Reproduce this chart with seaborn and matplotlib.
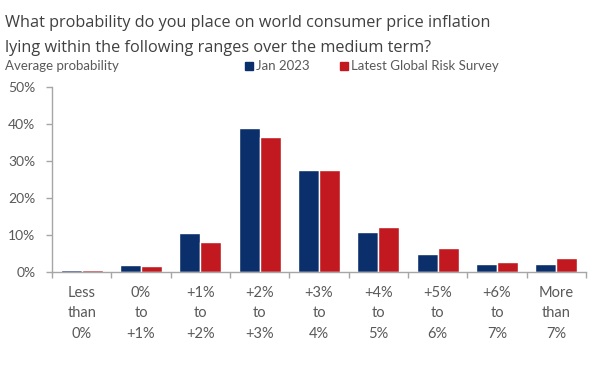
import numpy as np
import pandas as pd
import matplotlib
matplotlib.use("Agg")
import matplotlib.pyplot as plt
import seaborn as sns

categories = ["Less\nthan\n0%", "0%\nto\n+1%", "+1%\nto\n+2%", "+2%\nto\n+3%", "+3%\nto\n4%",
              "+4%\nto\n5%", "+5%\nto\n6%", "+6%\nto\n7%", "More\nthan\n7%"]
jan_2023 = [0.5, 1.9, 10.6, 39.0, 27.6, 10.7, 5.0, 2.1, 2.2]
latest = [0.5, 1.6, 8.2, 36.5, 27.6, 12.2, 6.6, 2.6, 3.7]
series_names = ["Jan 2023", "Latest Global Risk Survey"]
y_ticks = [0, 10, 20, 30, 40, 50]
title_lines = ["What probability do you place on world consumer price inflation",
               "lying within the following ranges over the medium term?"]

navy = "#0b2f6b"
red = "#c1191f"
grey = "#595959"
axis_grey = "#a6a6a6"

df = pd.DataFrame({
    "category": categories * 2,
    "value": jan_2023 + latest,
    "series": [series_names[0]] * len(categories) + [series_names[1]] * len(categories),
})

sns.set_style("white")
plt.rcParams["font.family"] = ["Lato", "DejaVu Sans"]

fig = plt.figure(figsize=(6, 3.83), dpi=100)
ax = fig.add_axes([52 / 600, 1 - 272 / 383, 534 / 600, 185 / 383])

sns.barplot(data=df, x="category", y="value", hue="series", order=categories,
            hue_order=series_names, palette=[navy, red], width=0.71, gap=0,
            saturation=1, legend=False, ax=ax)

ax.set_xlim(-0.5, len(categories) - 0.5)
ax.set_ylim(0, 50)
ax.set_yticks(y_ticks)
ax.set_yticklabels([f"{t}%" for t in y_ticks])
ax.set_xlabel("")
ax.set_ylabel("")

for side in ["top", "right"]:
    ax.spines[side].set_visible(False)
for side in ["left", "bottom"]:
    ax.spines[side].set_color(axis_grey)
    ax.spines[side].set_linewidth(1)

ax.tick_params(axis="y", length=4, width=1, color=axis_grey, labelcolor=grey,
               labelsize=10, pad=8, direction="out", left=True)
ax.tick_params(axis="x", which="major", length=0, labelcolor=grey, labelsize=10.5, pad=10)
ax.set_xticks(np.arange(-0.5, len(categories)), minor=True)
ax.tick_params(axis="x", which="minor", length=4, width=1, color=axis_grey, direction="out", bottom=True)
for lbl in ax.get_xticklabels():
    lbl.set_linespacing(1.6)

# title, one text per line so the line gap matches
for i, line in enumerate(title_lines):
    fig.text(5 / 600, 1 - (27 + 25 * i) / 383, line, ha="left", va="baseline",
             fontsize=11.7, color="#404040", family="Open Sans")
fig.text(5 / 600, 1 - 66 / 383, "Average probability", ha="left", va="center",
         fontsize=9.5, color=grey)

for x, name, col in [(245, series_names[0], navy), (340, series_names[1], red)]:
    fig.patches.append(plt.Rectangle((x / 600, 1 - 70 / 383), 8 / 600, 8 / 383,
                                     transform=fig.transFigure, color=col))
    fig.text((x + 11) / 600, 1 - 66 / 383, name, ha="left", va="center",
             fontsize=9.5, color=grey)

fig.savefig("out.png", dpi=100)
